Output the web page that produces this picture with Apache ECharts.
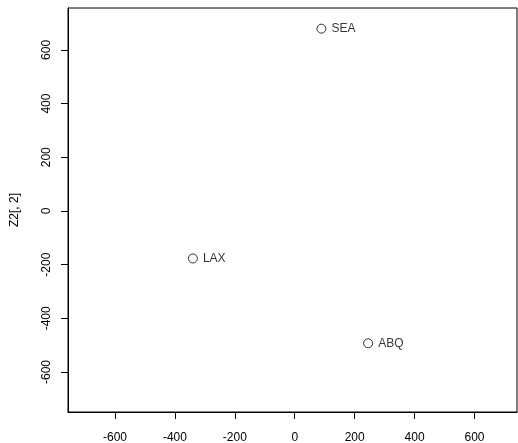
<!DOCTYPE html>
<html>
<head>
<meta charset="utf-8">
<script src="https://cdn.jsdelivr.net/npm/echarts@6/dist/echarts.min.js"></script>
<style>
  html, body { margin: 0; padding: 0; background: #fff; }
  #main { width: 518px; height: 443px; }
</style>
</head>
<body>
<div id="main"></div>
<script>
// MDS coordinates
var cities = ['SEA', 'LAX', 'ABQ'];
var xVals = [89, -340, 245];
var yVals = [679, -177, -493];
var tickVals = [-600, -400, -200, 0, 200, 400, 600];

var points = cities.map(function (c, i) {
    return { name: c, value: [xVals[i], yVals[i]] };
});

var font = 'Liberation Sans, Arial, sans-serif';

var option = {
    animation: false,
    backgroundColor: '#fff',
    grid: {
        show: true,
        left: 68,
        right: 1,
        top: 8,
        bottom: 31,
        containLabel: false,
        outerBoundsMode: 'none',
        borderColor: '#000',
        borderWidth: 1,
        backgroundColor: 'transparent'
    },
    xAxis: {
        type: 'value',
        min: -757,
        max: 742,
        axisLine: { show: true, onZero: false, lineStyle: { color: '#000' } },
        splitLine: { show: false },
        axisTick: {
            show: true,
            inside: false,
            length: 7,
            customValues: tickVals,
            lineStyle: { color: '#000', width: 1 }
        },
        axisLabel: {
            customValues: tickVals,
            margin: 20,
            color: '#000',
            fontSize: 12,
            fontFamily: font
        }
    },
    yAxis: {
        type: 'value',
        min: -749,
        max: 756,
        name: 'Z2[, 2]',
        nameLocation: 'middle',
        nameGap: 47,
        nameTextStyle: { color: '#000', fontSize: 12, fontFamily: font },
        axisLine: { show: true, onZero: false, lineStyle: { color: '#000' } },
        splitLine: { show: false },
        axisTick: {
            show: true,
            inside: false,
            length: 7,
            customValues: tickVals,
            lineStyle: { color: '#000', width: 1 }
        },
        axisLabel: {
            customValues: tickVals,
            rotate: 90,
            margin: 15,
            color: '#000',
            fontSize: 12,
            fontFamily: font
        }
    },
    series: [{
        type: 'scatter',
        symbol: 'circle',
        symbolSize: 9,
        itemStyle: { color: '#fff', borderColor: '#000', borderWidth: 1 },
        label: {
            show: true,
            position: 'right',
            distance: 5,
            formatter: '{b}',
            color: '#000',
            fontSize: 12,
            fontFamily: font
        },
        data: points
    }]
};

var myChart = echarts.init(document.getElementById('main'));
myChart.setOption(option);
</script>
</body>
</html>
